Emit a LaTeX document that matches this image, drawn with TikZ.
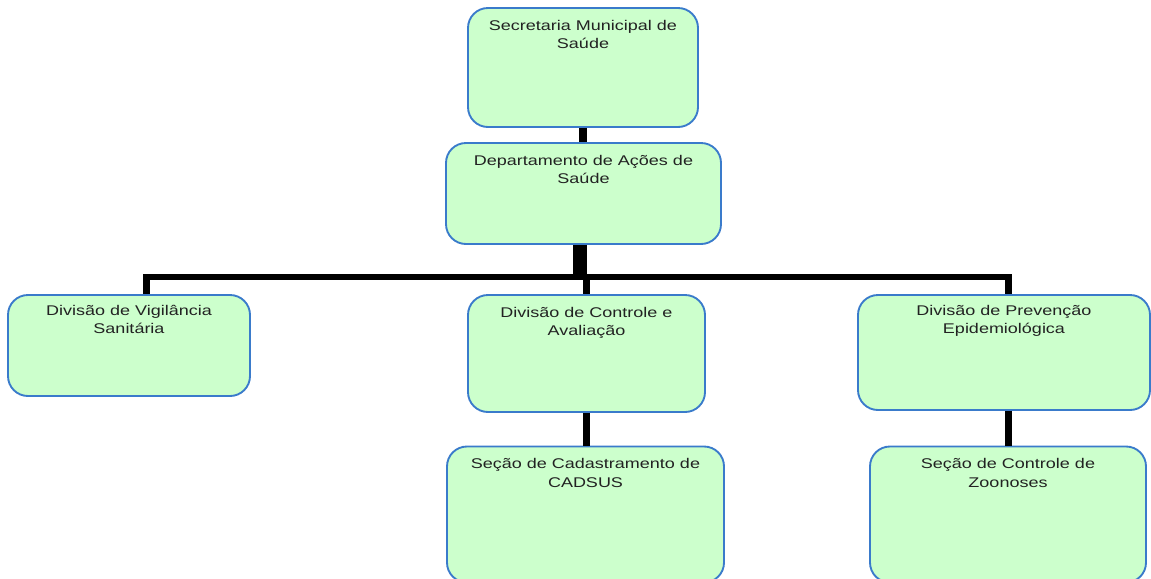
\documentclass[tikz,border=0pt]{standalone}
\usepackage{fontspec}
\setmainfont{Liberation Sans}[FakeStretch=1.28]
\usetikzlibrary{calc}

\definecolor{boxfill}{HTML}{CCFFCC}
\definecolor{boxline}{HTML}{3A7BCB}
\definecolor{txtcol}{HTML}{222222}

\tikzset{box/.style={draw=boxline,fill=boxfill,line width=1.6pt,rounded corners=17pt,inner sep=0pt}}
\tikzset{boxsize/.style 2 args={minimum width=#1*0.03cm,minimum height=#2*0.03cm}}
\tikzset{title/.style={anchor=north,align=center,inner sep=0pt,text=txtcol,font=\fontsize{12}{15.4}\selectfont}}
\tikzset{link/.style={line width=6pt}}
\tikzset{trunk/.style={line width=12pt}}
\tikzset{bar/.style={line width=5.5pt,line join=miter}}

\begin{document}
\begin{tikzpicture}[x=0.03cm,y=0.03cm]
        \useasboundingbox (0,0) rectangle (1151,-578);
        % draw the boxes
        \node[box,boxsize={230}{119}] (sec) at (583,-67.5) {};
        \node[box,boxsize={275}{101}] (dep) at (583.5,-193.5) {};
        \node[box,boxsize={242}{101}] (vig) at (129,-345.5) {};
        \node[box,boxsize={237}{117}] (ctr) at (586.5,-353.5) {};
        \node[box,boxsize={292}{115}] (prev) at (1004,-352.5) {};
        \node[box,boxsize={277}{136}] (cad) at (585.5,-514.5) {};
        \node[box,boxsize={276}{136}] (zoo) at (1008,-514.5) {};
        
        % draw the texts
        \node[title] (secT) at ($(sec.north)+(0,-13)$) {Secretaria Municipal de\\Saúde};
        \node[title] (depT) at ($(dep.north)+(0,-13)$) {Departamento de Ações de\\Saúde};
        \node[title] (vigT) at ($(vig.north)+(0,-11)$) {Divisão de Vigilância\\Sanitária};
        \node[title] (ctrT) at ($(ctr.north)+(0,-13)$) {Divisão de Controle e\\Avaliação};
        \node[title] (prevT) at ($(prev.north)+(0,-11)$) {Divisão de Prevenção\\Epidemiológica};
        \node[title] (cadT) at ($(cad.north)+(0,-13)$) {Seção de Cadastramento de\\CADSUS};
        \node[title] (zooT) at ($(zoo.north)+(0,-13)$) {Seção de Controle de\\Zoonoses};
        
        % draw the connectors
        \coordinate (bus) at (580,-277);
        \coordinate (busL) at (146.5,-277);
        \coordinate (busR) at (1008.5,-277);
        \draw[link] (sec.south) -- (sec.south |- dep.north);
        \draw[trunk] (dep.south -| bus) -- (bus);
        \draw[bar] (vig.north -| busL) -- (busL) -- (busR) -- (prev.north -| busR);
        \draw[link] (bus -| ctr.north) -- (ctr.north);
        \draw[link] (ctr.south) -- (ctr.south |- cad.north);
        \draw[link] (prev.south -| busR) -- (busR |- zoo.north);
    \end{tikzpicture}
\end{document}
